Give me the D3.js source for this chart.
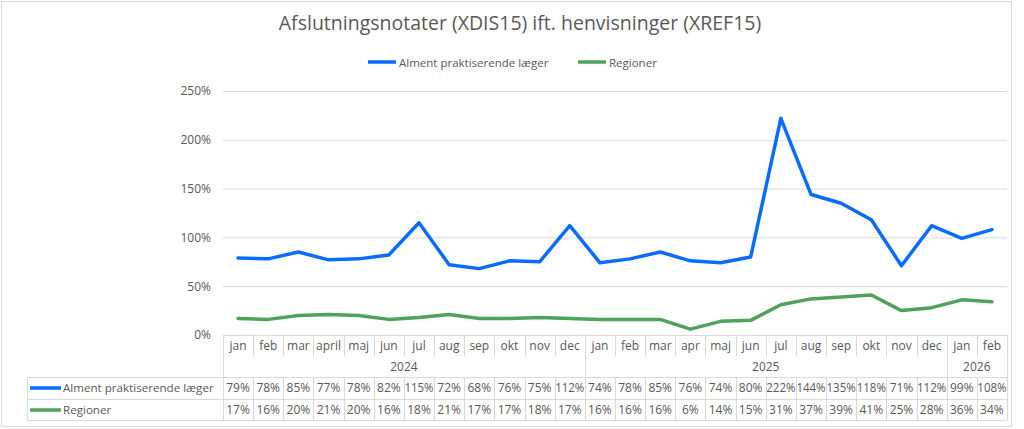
<!DOCTYPE html>
<html>
  <head>
    <meta charset="UTF-8">
    <title>Afslutningsnotater (XDIS15) ift. henvisninger (XREF15)</title>
    <script src="https://cdnjs.cloudflare.com/ajax/libs/d3/7.8.5/d3.min.js"></script>
  </head>
  <style type="text/css">
    body {
      margin: 0px;
      overflow: hidden;
      background: #fff;
    }
    text {
      font-family: "Open Sans", sans-serif;
      fill: #595959;
    }
    .grid line {
      stroke: #d9d9d9;
      stroke-width: 1;
    }
    .cell-line {
      stroke: #d9d9d9;
      stroke-width: 1;
      shape-rendering: crispEdges;
    }
    .series {
      fill: none;
      stroke-width: 3.5;
      stroke-linejoin: round;
      stroke-linecap: round;
    }
  </style>
  <body>
    <div id="chart"></div>
    <script>
      // data (table under the chart)
      const months = ["jan","feb","mar","april","maj","jun","jul","aug","sep","okt","nov","dec",
                      "jan","feb","mar","apr","maj","jun","jul","aug","sep","okt","nov","dec",
                      "jan","feb"];
      const years = ["2024","2024","2024","2024","2024","2024","2024","2024","2024","2024","2024","2024",
                     "2025","2025","2025","2025","2025","2025","2025","2025","2025","2025","2025","2025",
                     "2026","2026"];
      const alment = [79,78,85,77,78,82,115,72,68,76,75,112,74,78,85,76,74,80,222,144,135,118,71,112,99,108];
      const regioner = [17,16,20,21,20,16,18,21,17,17,18,17,16,16,16,6,14,15,31,37,39,41,25,28,36,34];
      const yTicks = [0, 50, 100, 150, 200, 250];

      const seriesNames = ["Alment praktiserende læger", "Regioner"];
      const seriesColors = ["#0a6cff", "#4ea25a"];
      const series = [alment, regioner];

      const width = 1024, height = 429;
      const svg = d3.select("#chart").append("svg")
        .attr("width", width)
        .attr("height", height);

      // outer chart border
      svg.append("rect")
        .attr("x", 1.5).attr("y", 1.5)
        .attr("width", 1010).attr("height", 425)
        .attr("fill", "none")
        .attr("stroke", "#d9d9d9");

      // title
      svg.append("text")
        .attr("x", 520).attr("y", 30)
        .attr("text-anchor", "middle")
        .style("font-size", "19.5px")
        .text("Afslutningsnotater (XDIS15) ift. henvisninger (XREF15)");

      // legend on top
      const legendX = [368, 578];
      seriesNames.forEach((name, i) => {
        const g = svg.append("g").attr("transform", `translate(${legendX[i]},62)`);
        g.append("line").attr("x1", 0).attr("x2", 28).attr("y1", 0).attr("y2", 0)
          .attr("stroke", seriesColors[i]).attr("stroke-width", 3.5);
        g.append("text").attr("x", 31).attr("y", 4.5)
          .style("font-size", "11.5px").text(name);
      });

      // scales
      const x = d3.scaleBand()
        .domain(d3.range(months.length))
        .range([223, 1007]);
      const y = d3.scaleLinear()
        .domain([0, 250])
        .range([335, 91]);

      // gridlines + y axis labels
      const yAxis = d3.axisLeft(y)
        .tickValues(yTicks)
        .tickSize(-(1007 - 223))
        .tickPadding(12)
        .tickFormat(d => d + "%");
      const yg = svg.append("g")
        .attr("class", "grid")
        .attr("transform", "translate(223,0)")
        .call(yAxis);
      yg.select(".domain").remove();
      yg.selectAll("text").style("font-size", "12px").attr("fill", "#595959");

      // lines
      const line = d3.line()
        .x((d, i) => x(i) + x.bandwidth() / 2)
        .y(d => y(d));
      series.forEach((s, i) => {
        svg.append("path")
          .datum(s)
          .attr("class", "series")
          .attr("stroke", seriesColors[i])
          .attr("d", line);
      });

      // data table below the plot
      const rowTop = [335, 356, 377, 399, 420];
      const tbl = svg.append("g");
      const bw = x.bandwidth();
      const hline = (x1, x2, yy) => tbl.append("line").attr("class", "cell-line")
        .attr("x1", x1).attr("x2", x2).attr("y1", yy + 0.5).attr("y2", yy + 0.5);
      const vline = (xx, y1, y2) => tbl.append("line").attr("class", "cell-line")
        .attr("x1", Math.round(xx) + 0.5).attr("x2", Math.round(xx) + 0.5).attr("y1", y1).attr("y2", y2);

      hline(223, 1007, rowTop[0]);
      hline(27, 1007, rowTop[2]);
      hline(27, 1007, rowTop[3]);
      hline(27, 1007, rowTop[4]);
      vline(27, rowTop[2], rowTop[4]);

      // month row
      months.forEach((m, i) => {
        const cx = x(i) + bw / 2;
        tbl.append("text").attr("x", cx).attr("y", rowTop[0] + 15)
          .attr("text-anchor", "middle").style("font-size", "12px").text(m);
        vline(x(i), rowTop[0], rowTop[1]);
        vline(x(i), rowTop[2], rowTop[4]);
      });
      vline(1007, rowTop[0], rowTop[4]);

      // year row, grouped
      const yearGroups = d3.groups(d3.range(years.length), i => years[i]);
      yearGroups.forEach(([yr, idx]) => {
        const x0 = x(idx[0]), x1 = x(idx[idx.length - 1]) + bw;
        vline(x0, rowTop[0], rowTop[4]);
        tbl.append("text").attr("x", (x0 + x1) / 2).attr("y", rowTop[1] + 15)
          .attr("text-anchor", "middle").style("font-size", "12px").text(yr);
      });

      // value rows
      series.forEach((s, r) => {
        const ty = rowTop[2 + r] + 15;
        tbl.append("line").attr("x1", 30).attr("x2", 61).attr("y1", ty - 4).attr("y2", ty - 4)
          .attr("stroke", seriesColors[r]).attr("stroke-width", 3.5);
        tbl.append("text").attr("x", 63).attr("y", ty)
          .style("font-size", "11.6px").text(seriesNames[r]);
        s.forEach((v, i) => {
          const t = tbl.append("text").attr("x", x(i) + bw / 2).attr("y", ty)
            .attr("text-anchor", "middle").style("font-size", "12px").text(v + "%");
          if (t.node().getComputedTextLength() > bw - 1) {
            t.attr("textLength", bw - 1).attr("lengthAdjust", "spacingAndGlyphs");
          }
        });
      });
    </script>
  </body>
</html>
